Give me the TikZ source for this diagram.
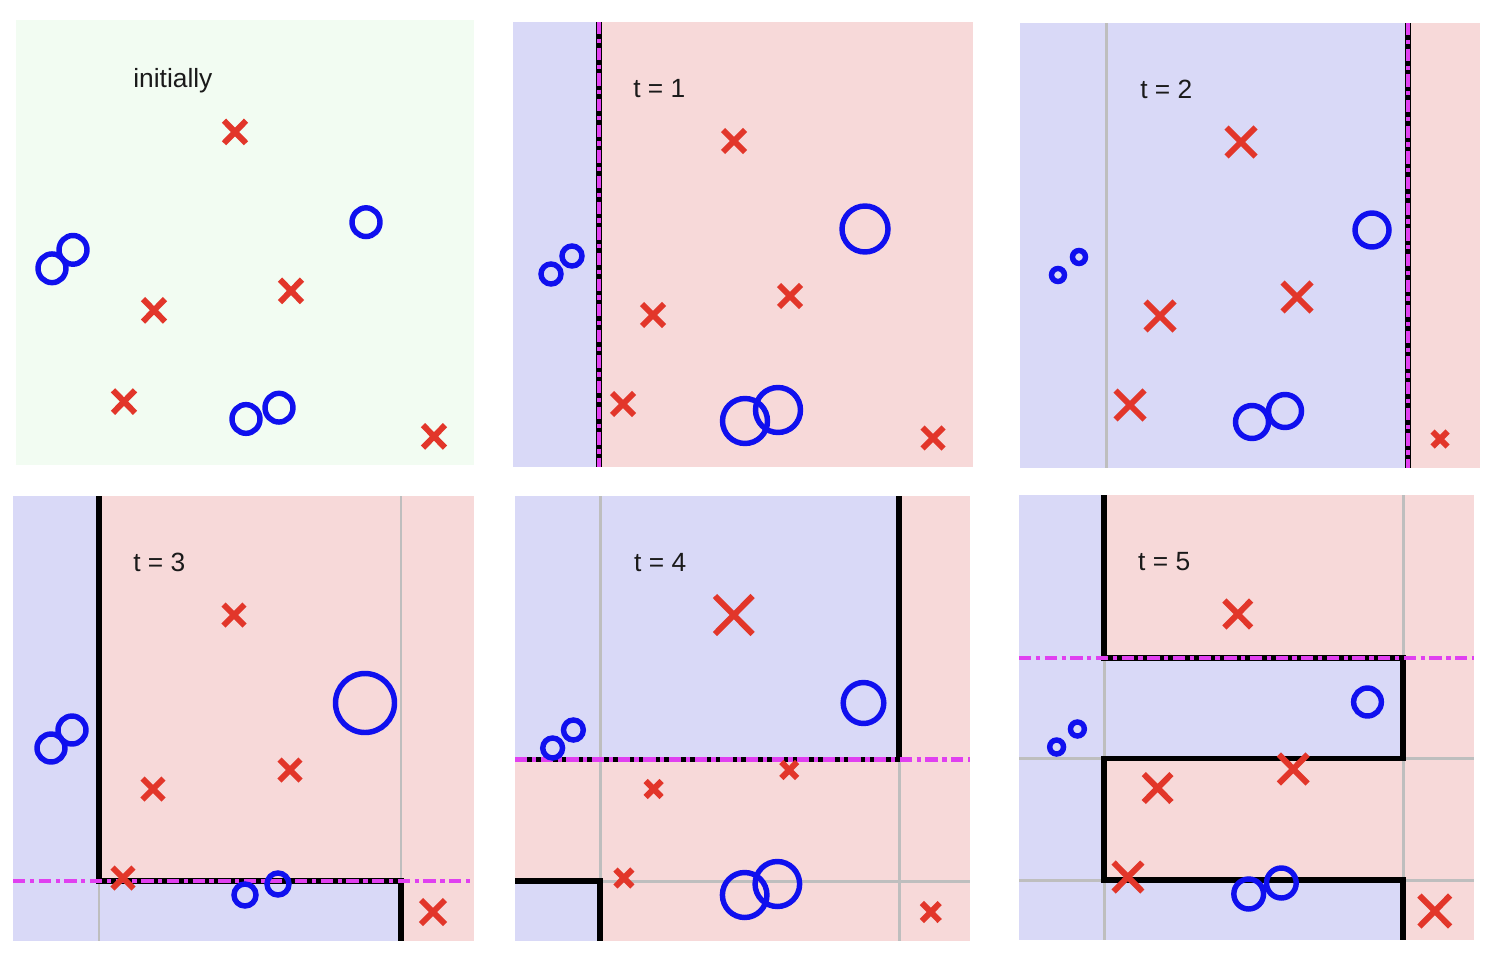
\documentclass[tikz,border=0pt]{standalone}
\usepackage{fontspec}
\setmainfont{Liberation Sans}
\usetikzlibrary{calc}
\definecolor{greenbg}{HTML}{F2FCF2}
\definecolor{blueside}{HTML}{D9D9F7}
\definecolor{redside}{HTML}{F7D9D9}
\definecolor{markblue}{HTML}{1010EE}
\definecolor{markred}{HTML}{E2362A}
\definecolor{cutmagenta}{HTML}{E040F0}
\definecolor{cutgray}{HTML}{BEBEBE}
\definecolor{inkblack}{HTML}{1A1A1A}

% stump thresholds (panel pixels, y downwards)
\newcommand{\cutxa}{86}
\newcommand{\cutxb}{388}
\newcommand{\cutya}{163}
\newcommand{\cutyb}{263.5}
\newcommand{\cutyc}{385}

% crosses #1 and circles #2: sizes for the five points of each class
\newcommand{\drawmarks}[2]{%
  \foreach \px/\py [count=\i from 0] in {221/119,140/293,277/274,110/382,420/416}{
    \pgfmathsetmacro{\sz}{{#1}[\i]}
    \draw[xmark] ({\px-\sz},{\py-\sz}) -- ({\px+\sz},{\py+\sz})
                 ({\px-\sz},{\py+\sz}) -- ({\px+\sz},{\py-\sz});
  }
  \foreach \px/\py [count=\i from 0] in {38/252,59/234,352/207,232/399,265/388}{
    \pgfmathsetmacro{\rad}{{#2}[\i]}
    \draw[omark] (\px,\py) circle (\rad);
  }}

\begin{document}
\begin{tikzpicture}[
    x=0.02cm, y=-0.02cm,
    font=\fontsize{15}{17}\selectfont,
    xmark/.style={draw=markred, line width=3.4pt},
    omark/.style={draw=markblue, line width=3.1pt},
    oldcut/.style={draw=cutgray, line width=1.7pt},
    boundary/.style={draw=black, line width=3.2pt},
    newcut/.style={draw=cutmagenta, line width=2.5pt, dash pattern=on 7pt off 2.6pt on 2.4pt off 2.6pt},
    lbl/.style={anchor=base west, inner sep=0pt, text=inkblack},
]
    \useasboundingbox[fill=white] (0,0) rectangle (1490,960);

    % =====================================================================
    % initially
    % =====================================================================
    \begin{scope}[shift={(16,20)}]
        \fill[greenbg] (0,0) rectangle (458,445);
        \node[lbl] (lab0) at (117,67) {initially};
        \begin{scope}[shift={(-2,-10)}, yscale=1.025]
            \drawmarks{11,11,11,11,11}{14,14,14,14,14}
        \end{scope}
    \end{scope}

    % =====================================================================
    % t = 1
    % =====================================================================
    \begin{scope}[shift={(513,22)}]
        \fill[blueside] (0,0) rectangle (\cutxa,445);
        \fill[redside] (\cutxa,0) rectangle (460,445);
        \draw[boundary] (\cutxa,0) -- (\cutxa,445);
        \draw[newcut] (\cutxa,0) -- (\cutxa,445);
        \node[lbl] (lab1) at (120,75) {t = 1};
        \drawmarks{11,11,11,11,10.5}{10,10,23,22.5,22.5}
    \end{scope}

    % =====================================================================
    % t = 2
    % =====================================================================
    \begin{scope}[shift={(1020,23)}]
        \fill[blueside] (0,0) rectangle (\cutxb,445);
        \fill[redside] (\cutxb,0) rectangle (460,445);
        \draw[oldcut] (\cutxa,0) -- (\cutxa,445);
        \draw[boundary] (\cutxb,0) -- (\cutxb,445);
        \draw[newcut] (\cutxb,0) -- (\cutxb,445);
        \node[lbl] (lab2) at (120,75) {t = 2};
        \drawmarks{14.5,14.5,14.5,14.5,7.5}{6.5,6.5,17,16.5,16.5}
    \end{scope}

    % =====================================================================
    % t = 3
    % =====================================================================
    \begin{scope}[shift={(13,496)}]
        \fill[redside] (0,0) rectangle (461,445);
        \fill[blueside] (0,0) rectangle (\cutxa,445);
        \fill[blueside] (\cutxa,\cutyc) rectangle (\cutxb,445);
        \draw[oldcut] (\cutxa,0) -- (\cutxa,445);
        \draw[oldcut] (\cutxb,0) -- (\cutxb,445);
        \draw[boundary] (\cutxa,0) -- (\cutxa,\cutyc) -- (\cutxb,\cutyc) -- (\cutxb,445);
        \draw[newcut] (0,\cutyc) -- (461,\cutyc);
        \node[lbl] (lab3) at (120,75) {t = 3};
        \drawmarks{10.5,10.5,10.5,10.5,12}{14,14,29.5,11,11}
    \end{scope}

    % =====================================================================
    % t = 4
    % =====================================================================
    \begin{scope}[shift={(515,496)}, xscale=0.99]
        \fill[redside] (0,0) rectangle (460,445);
        \fill[blueside] (0,0) rectangle (\cutxb,\cutyb);
        \fill[blueside] (0,\cutyc) rectangle (\cutxa,445);
        \draw[oldcut] (\cutxa,0) -- (\cutxa,445);
        \draw[oldcut] (\cutxb,0) -- (\cutxb,445);
        \draw[oldcut] (0,\cutyc) -- (460,\cutyc);
        \draw[boundary] (\cutxb,0) -- (\cutxb,\cutyb) -- (0,\cutyb);
        \draw[boundary] (0,\cutyc) -- (\cutxa,\cutyc) -- (\cutxa,445);
        \draw[newcut] (0,\cutyb) -- (460,\cutyb);
        \node[lbl] (lab4) at (120,75) {t = 4};
        \drawmarks{19,8,8,8.5,9}{10,10,20.5,22.5,22.5}
    \end{scope}

    % =====================================================================
    % t = 5
    % =====================================================================
    \begin{scope}[shift={(1019,495)}, xscale=0.99]
        \fill[redside] (0,0) rectangle (460,445);
        \fill[blueside] (0,0) rectangle (\cutxa,445);
        \fill[blueside] (\cutxa,\cutya) rectangle (\cutxb,\cutyb);
        \fill[blueside] (\cutxa,\cutyc) rectangle (\cutxb,445);
        \draw[oldcut] (\cutxa,0) -- (\cutxa,445);
        \draw[oldcut] (\cutxb,0) -- (\cutxb,445);
        \draw[oldcut] (0,\cutyb) -- (460,\cutyb);
        \draw[oldcut] (0,\cutyc) -- (460,\cutyc);
        \draw[boundary] (\cutxa,0) -- (\cutxa,\cutya) -- (\cutxb,\cutya) -- (\cutxb,\cutyb)
            -- (\cutxa,\cutyb) -- (\cutxa,\cutyc) -- (\cutxb,\cutyc) -- (\cutxb,445);
        \draw[newcut] (0,\cutya) -- (460,\cutya);
        \node[lbl] (lab5) at (120,75) {t = 5};
        \drawmarks{13.5,14,14.5,14.5,15.5}{7,7,14,15,15}
    \end{scope}

\end{tikzpicture}
\end{document}
